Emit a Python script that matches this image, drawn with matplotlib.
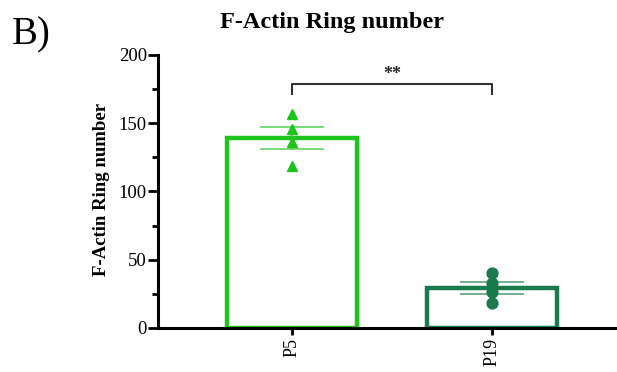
import numpy as np
import matplotlib
matplotlib.use("Agg")
import matplotlib.pyplot as plt
from matplotlib.ticker import MultipleLocator

plt.rcParams['font.family'] = ['Liberation Serif', 'DejaVu Serif']

groups = ["P5", "P19"]
p5_values = [157, 146, 136, 119]
p19_values = [40, 33, 26, 18]
bar_colors = ["#1fc41f", "#1b7a4c"]
markers = ["^", "o"]
sig_label = "**"

data = [p5_values, p19_values]
means = [np.mean(v) for v in data]
sems = [np.std(v, ddof=1) / np.sqrt(len(v)) for v in data]

fig = plt.figure(figsize=(6.17, 3.72), dpi=100)
ax = fig.add_axes([0.2561, 0.1183, 0.7439, 0.734])

x = np.arange(len(groups))
ax.bar(x, means, width=0.65, facecolor="white", edgecolor=bar_colors,
       linewidth=3.2, zorder=2)

for xi, vals, m, s, c, mk in zip(x, data, means, sems, bar_colors, markers):
    ax.hlines([m - s, m + s], xi - 0.16, xi + 0.16, colors=c, linewidth=1.3,
              alpha=0.65, zorder=3)
    ax.vlines(xi, m - s, m + s, colors=c, linewidth=1.3, alpha=0.65, zorder=3)
    ax.plot([xi] * len(vals), vals, linestyle="none", marker=mk, color=c,
            markersize=7.2 if mk == "^" else 7.8, zorder=4)

# significance bracket
yb, yd = 179, 171
ax.plot([0, 0, 1, 1], [yd, yb, yb, yd], color="#333333", linewidth=1.5,
        solid_capstyle="butt", zorder=3)
ax.text(0.5, yb + 0.5, sig_label, ha="center", va="bottom", fontsize=13,
        fontweight="bold", color="#222222")

ax.set_xlim(-0.67, 1.625)
ax.set_ylim(0, 200)
ax.yaxis.set_major_locator(MultipleLocator(50))
ax.yaxis.set_minor_locator(MultipleLocator(25))
ax.set_xticks(x)
ax.set_xticklabels(groups, rotation=90, fontsize=13)
ax.tick_params(axis="y", which="major", length=7, width=2, labelsize=13.5, pad=1)
ax.tick_params(axis="y", which="minor", length=4, width=2)
ax.tick_params(axis="x", length=5, width=2, pad=2)
for side in ["top", "right"]:
    ax.spines[side].set_visible(False)
for side in ["left", "bottom"]:
    ax.spines[side].set_linewidth(2.2)

fig.text(0.164, 0.49, "F-Actin Ring number", rotation=90, ha="center",
         va="center", fontsize=13.5, fontweight="bold")

fig.text(0.538, 0.94, "F-Actin Ring number", ha="center", va="center",
         fontsize=17.5, fontweight="bold")
fig.text(0.019, 0.905, "B)", ha="left", va="center", fontsize=28)

fig.savefig("out.png", dpi=100)
